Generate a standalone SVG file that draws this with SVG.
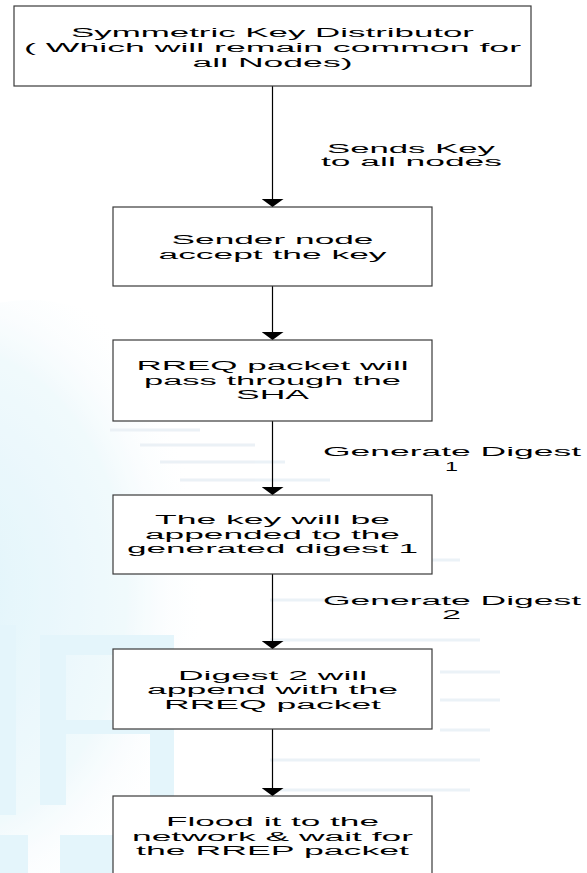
<svg xmlns="http://www.w3.org/2000/svg" width="587" height="873" viewBox="0 0 587 873">
<defs>
<style>
.box{fill:#ffffff;stroke:#3a3a3a;stroke-width:1.2}
.t{font-family:"Liberation Sans",Arial,sans-serif;font-size:12.5px;fill:#000}
.c{stroke:#000;stroke-width:1.2;fill:none;marker-end:url(#ah)}
.wm{fill:#d9f2fa}
.st{stroke:#e3ecf3;stroke-width:3;fill:none}
</style>
<marker id="ah" markerUnits="userSpaceOnUse" viewBox="0 0 8 22" refX="8" refY="11" markerWidth="8" markerHeight="22" orient="auto">
<path d="M0,0 L8,11 L0,22 Z" fill="#000"/>
</marker>
<radialGradient id="glow" cx="0.3" cy="0.5" r="0.6">
<stop offset="0" stop-color="#d3f0f9"/>
<stop offset="0.7" stop-color="#ebf8fc"/>
<stop offset="1" stop-color="#ffffff" stop-opacity="0"/>
</radialGradient>
</defs>
<rect width="587" height="873" fill="#ffffff"/>
<g id="watermark" opacity="0.7">
<ellipse cx="30" cy="590" rx="220" ry="290" fill="url(#glow)"/>
<rect class="wm" x="0" y="625" width="16" height="190"/>
<rect class="wm" x="40" y="640" width="26" height="165"/>
<rect class="wm" x="150" y="640" width="24" height="165"/>
<rect class="wm" x="40" y="635" width="134" height="20"/>
<rect class="wm" x="40" y="720" width="134" height="14"/>
<rect class="wm" x="0" y="835" width="28" height="38"/>
<rect class="wm" x="60" y="835" width="90" height="38"/>
<path class="st" d="M110 430 H200 M140 445 H255 M160 462 H285 M180 480 H330 M195 497 H300 M245 512 H430 M270 560 H460 M270 600 H470 M270 640 H480 M440 672 H500 M440 700 H500 M440 730 H490 M270 760 H480 M280 790 H470"/>
</g>
<g id="connectors">
<line class="c" x1="272.5" y1="86" x2="272.5" y2="207"/>
<line class="c" x1="272.5" y1="286" x2="272.5" y2="340"/>
<line class="c" x1="272.5" y1="421" x2="272.5" y2="495"/>
<line class="c" x1="272.5" y1="574" x2="272.5" y2="649"/>
<line class="c" x1="272.5" y1="729" x2="272.5" y2="796"/>
<text class="t" x="327" y="153" textLength="168" lengthAdjust="spacingAndGlyphs">Sends Key</text>
<text class="t" x="321" y="165.5" textLength="181" lengthAdjust="spacingAndGlyphs">to all nodes</text>
<text class="t" x="323" y="456" textLength="258" lengthAdjust="spacingAndGlyphs">Generate Digest</text>
<text class="t" x="445" y="471" textLength="13" lengthAdjust="spacingAndGlyphs">1</text>
<text class="t" x="323" y="605" textLength="258" lengthAdjust="spacingAndGlyphs">Generate Digest</text>
<text class="t" x="442" y="619" textLength="19" lengthAdjust="spacingAndGlyphs">2</text>
</g>
<g id="node1">
<rect class="box" x="14" y="6" width="517" height="80"/>
<text class="t" x="71" y="37" textLength="403" lengthAdjust="spacingAndGlyphs">Symmetric Key Distributor</text>
<text class="t" x="24" y="52" textLength="497" lengthAdjust="spacingAndGlyphs">( Which will remain common for</text>
<text class="t" x="192.5" y="67" textLength="160" lengthAdjust="spacingAndGlyphs">all Nodes)</text>
</g>
<g id="node2">
<rect class="box" x="113" y="207" width="319" height="79"/>
<text class="t" x="171.5" y="244" textLength="202" lengthAdjust="spacingAndGlyphs">Sender node</text>
<text class="t" x="158.5" y="258.5" textLength="228" lengthAdjust="spacingAndGlyphs">accept the key</text>
</g>
<g id="node3">
<rect class="box" x="113" y="340" width="319" height="81"/>
<text class="t" x="136.5" y="370" textLength="272" lengthAdjust="spacingAndGlyphs">RREQ packet will</text>
<text class="t" x="144" y="384.5" textLength="257" lengthAdjust="spacingAndGlyphs">pass through the</text>
<text class="t" x="236" y="399" textLength="73" lengthAdjust="spacingAndGlyphs">SHA</text>
</g>
<g id="node4">
<rect class="box" x="113" y="495" width="319" height="79"/>
<text class="t" x="155" y="524" textLength="235" lengthAdjust="spacingAndGlyphs">The key will be</text>
<text class="t" x="145" y="538.5" textLength="255" lengthAdjust="spacingAndGlyphs">appended to the</text>
<text class="t" x="127" y="553" textLength="291" lengthAdjust="spacingAndGlyphs">generated digest 1</text>
</g>
<g id="node5">
<rect class="box" x="113" y="649" width="319" height="80"/>
<text class="t" x="178" y="680" textLength="189" lengthAdjust="spacingAndGlyphs">Digest 2 will</text>
<text class="t" x="147" y="694" textLength="251" lengthAdjust="spacingAndGlyphs">append with the</text>
<text class="t" x="164" y="708.5" textLength="217" lengthAdjust="spacingAndGlyphs">RREQ packet</text>
</g>
<g id="node6">
<rect class="box" x="113" y="796" width="319" height="82"/>
<text class="t" x="166" y="826" textLength="213" lengthAdjust="spacingAndGlyphs">Flood it to the</text>
<text class="t" x="132" y="840.5" textLength="281" lengthAdjust="spacingAndGlyphs">network &amp; wait for</text>
<text class="t" x="136" y="855" textLength="273" lengthAdjust="spacingAndGlyphs">the RREP packet</text>
</g>
</svg>
